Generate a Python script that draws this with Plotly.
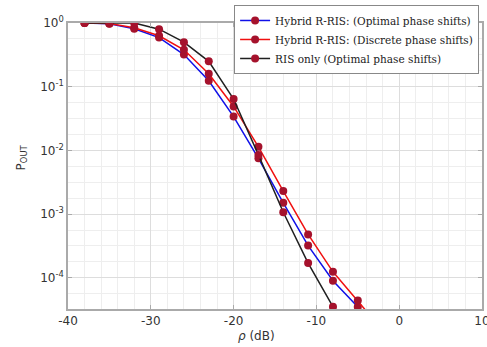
import plotly.graph_objects as go

rho_db = [-38, -35, -32, -29, -26, -23, -20, -17, -14, -11, -8, -5, -2]

p_hybrid_opt = [1.0, 0.97, 0.81, 0.59, 0.32, 0.124, 0.034, 0.0075, 1.5e-3, 3.2e-4, 9e-5, 3.5e-5, 1.35e-5]
p_hybrid_disc = [1.0, 0.98, 0.84, 0.63, 0.38, 0.16, 0.049, 0.0114, 2.3e-3, 4.8e-4, 1.24e-4, 4.4e-5, 1.5e-5]
p_ris_only = [1.0, 1.0, 1.0, 0.8, 0.5, 0.25, 0.064, 0.0085, 1.07e-3, 1.7e-4, 3.5e-5, 7e-6, 1.5e-6]

names = [
    "Hybrid R-RIS: (Optimal phase shifts)",
    "Hybrid R-RIS: (Discrete phase shifts)",
    "RIS only (Optimal phase shifts)",
]
colors = ["#1010E8", "#F01010", "#202020"]
marker_color = "#A5122C"

x_tickvals = [-40, -30, -20, -10, 0, 10]
y_tickvals = [1, 0.1, 0.01, 0.001, 0.0001]
y_ticktext = ["10<sup>0</sup>", "10<sup>-1</sup>", "10<sup>-2</sup>", "10<sup>-3</sup>", "10<sup>-4</sup>"]

fig = go.Figure()
for nm, ys, c in zip(names, [p_hybrid_opt, p_hybrid_disc, p_ris_only], colors):
    fig.add_trace(go.Scatter(
        x=rho_db, y=ys, name=nm, mode="lines+markers",
        line=dict(color=c, width=1.5),
        marker=dict(color=marker_color, size=8, symbol="circle"),
    ))

axis_font = dict(family="DejaVu Sans", size=12, color="#333333")
fig.update_layout(
    width=487, height=347,
    margin=dict(l=68, r=5, t=23, b=38, autoexpand=False),
    paper_bgcolor="white", plot_bgcolor="white",
    showlegend=True,
    legend=dict(
        x=0.993, y=1.063, xanchor="right", yanchor="top",
        bgcolor="white", bordercolor="#888888", borderwidth=1,
        font=dict(family="DejaVu Serif", size=10.5, color="#222222"),
        tracegroupgap=0, itemwidth=30,
    ),
    xaxis=dict(
        range=[-40, 10], tickvals=x_tickvals, ticktext=[str(v) for v in x_tickvals],
        showgrid=True, gridcolor="#DDDDDD", gridwidth=1,
        minor=dict(dtick=2, showgrid=True, gridcolor="#EEEEEE", ticks=""),
        showline=True, linecolor="#AAAAAA", linewidth=1.5, mirror="ticks",
        ticks="inside", ticklen=4, tickcolor="#AAAAAA",
        tickfont=axis_font, zeroline=False, ticklabeloverflow="allow",
    ),
    yaxis=dict(
        type="log", range=[-4.49, 0], tickvals=y_tickvals, ticktext=y_ticktext,
        showgrid=True, gridcolor="#DDDDDD", gridwidth=1,
        minor=dict(dtick=0.25, showgrid=True, gridcolor="#EEEEEE", ticks=""),
        showline=True, linecolor="#AAAAAA", linewidth=1.5, mirror="ticks",
        ticks="inside", ticklen=4, tickcolor="#AAAAAA",
        tickfont=axis_font, zeroline=False,
    ),
    annotations=[
        dict(text="<i>ρ</i> (dB)", xref="paper", yref="paper", x=0.455, y=0,
             yshift=-18, xanchor="center", yanchor="top", showarrow=False,
             font=dict(family="DejaVu Sans", size=12, color="#333333")),
        dict(text="P<sub>OUT</sub>", xref="paper", yref="paper", x=0, y=0.53,
             xshift=-46, xanchor="center", yanchor="middle", showarrow=False,
             textangle=-90,
             font=dict(family="DejaVu Sans", size=12, color="#333333")),
    ],
)

fig.write_html("out.html", config={"displayModeBar": False},
               post_script="document.body.style.margin='0';")
